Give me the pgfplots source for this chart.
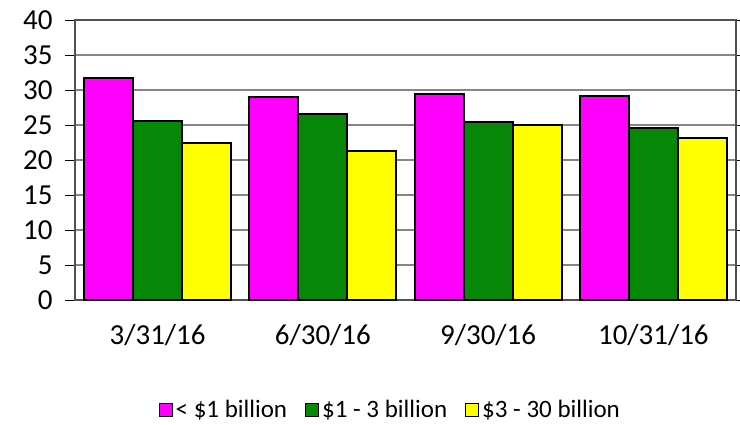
\documentclass[border=0pt]{standalone}
\usepackage{fontspec}
\setmainfont{Carlito}
\usepackage{pgfplots}
\pgfplotsset{compat=1.18}

\definecolor{cMag}{HTML}{FF00FF}
\definecolor{cGrn}{HTML}{078707}
\definecolor{cYel}{HTML}{FFFF00}
\definecolor{cGrid}{HTML}{868686}

\begin{document}
\begin{tikzpicture}
\begin{axis}[
    at={(0,0)}, anchor=south west,
    width=661pt, height=280pt, scale only axis,
    ybar=0pt, bar width=49pt,
    xmin=-0.5, xmax=3.5,
    ymin=0, ymax=40,
    ytick={0,5,...,40},
    xtick={0,1,2,3},
    xticklabels={3/31/16, 6/30/16, 9/30/16, 10/31/16},
    extra x ticks={-0.5,0.5,1.5,2.5,3.5},
    extra x tick labels={},
    extra x tick style={major tick length=9pt, tick style={draw=black, line width=1pt}, grid=none},
    x tick style={draw=none},
    y tick style={draw=black, line width=1pt},
    major tick length=10pt,
    tick align=outside,
    ymajorgrids,
    grid style={cGrid, line width=1.4pt},
    axis line style={draw=cGrid!60!black, line width=1.4pt},
    /pgf/number format/assume math mode=true,
    ticklabel style={font=\fontsize{29}{32}\selectfont, text=black},
    xticklabel style={yshift=-11pt},
    yticklabel style={xshift=-9pt},
    legend columns=3,
    legend style={at={(0.477,-0.393)}, anchor=center, draw=none,
        font=\fontsize{25}{29}\selectfont,
        /tikz/every odd column/.append style={column sep=1pt},
        /tikz/every even column/.append style={column sep=16pt}},
    legend image code/.code={\draw[#1, line width=1pt] (0pt,-6pt) rectangle (13pt,7pt);},
]
\addplot[fill=cMag, draw=black, line width=2pt] coordinates {(0,31.7) (1,29.05) (2,29.5) (3,29.2)};
\addplot[fill=cGrn, draw=black, line width=2pt] coordinates {(0,25.6) (1,26.6) (2,25.5) (3,24.6)};
\addplot[fill=cYel, draw=black, line width=2pt] coordinates {(0,22.5) (1,21.3) (2,25.05) (3,23.2)};
\legend{< \$1 billion, \$1 - 3 billion, \$3 - 30 billion}
\end{axis}
\pgfresetboundingbox
\path[use as bounding box] (-75pt,-124pt) rectangle (665pt,300pt);
\end{tikzpicture}
\end{document}
